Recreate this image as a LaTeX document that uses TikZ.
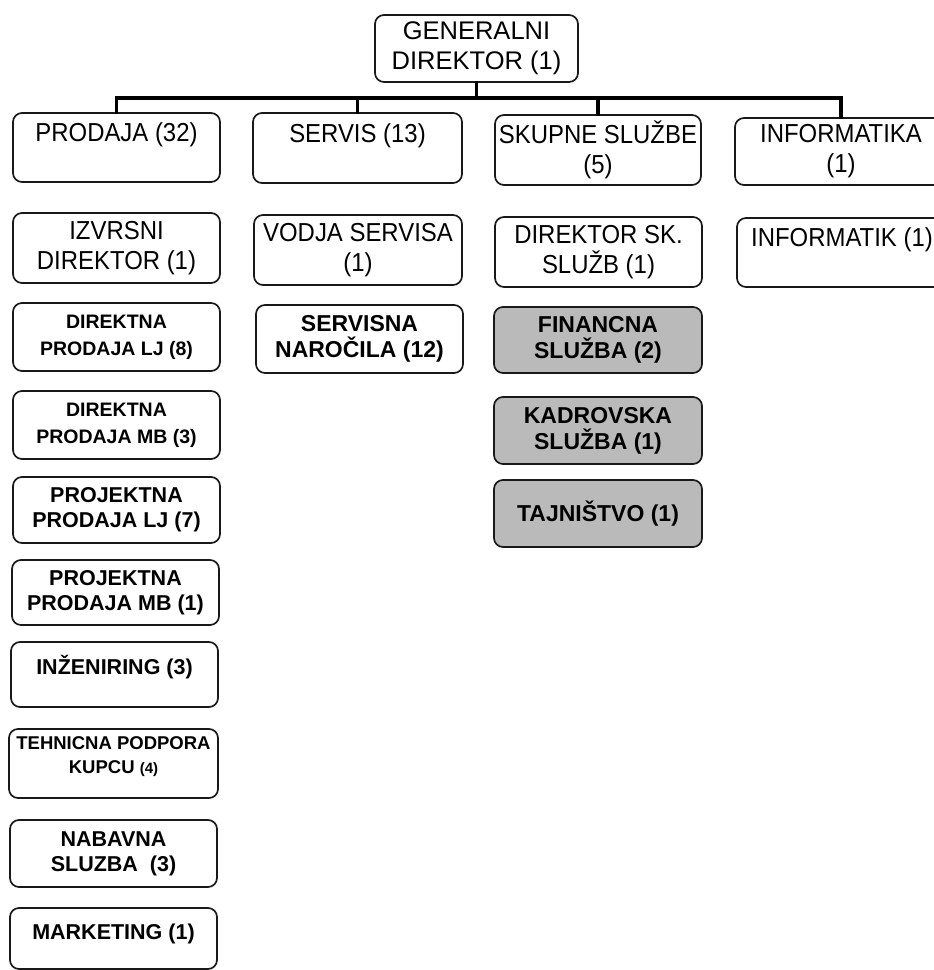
\documentclass[tikz,border=0pt]{standalone}
\usepackage{fontspec}
\setmainfont{Liberation Sans}
\newfontfamily\topfont{Liberation Sans}[FakeStretch=0.92]
\begin{document}
\begin{tikzpicture}[x=1pt,y=-1pt,
  ob/.style={draw=black!90, line width=1.7pt, rounded corners=9pt, inner sep=0pt, align=center, text=black},
  grey/.style={fill=black!27},
  tT/.style={font={\topfont\fontsize{26}{30}\selectfont}},
  tG/.style={font={\fontsize{25.5}{30}\selectfont}},
  bA/.style={font={\bfseries\fontsize{19.5}{27}\selectfont}},
  bB/.style={font={\bfseries\fontsize{21.5}{25}\selectfont}},
  bC/.style={font={\bfseries\fontsize{23}{26}\selectfont}},
  bD/.style={font={\bfseries\fontsize{18.5}{24}\selectfont}},
  link/.style={line width=3.2pt, line cap=rect, draw=black}]
\useasboundingbox (0,0) rectangle (934,970);
\clip (0,0) rectangle (934,970);
\fill[white] (0,0) rectangle (934,970);
% top
\node[ob,tG,minimum width=203pt,minimum height=67pt] (gd) at (476.5,48.5) {GENERALNI\\DIREKTOR (1)};
% row 1
\node[ob,tT,minimum width=207pt,minimum height=69pt] (prodaja) at (116.5,147.5) {PRODAJA (32)\\~};
\node[ob,tT,minimum width=209pt,minimum height=70pt] (servis) at (357.5,148) {SERVIS (13)\\~};
\node[ob,tT,minimum width=206pt,minimum height=70pt] (skupne) at (598,150) {SKUPNE SLUŽBE\\(5)};
\node[ob,tT,minimum width=212pt,minimum height=67pt] (informatika) at (841,151.5) {INFORMATIKA\\(1)};
% row 2
\node[ob,tT,minimum width=207pt,minimum height=70pt] (izvrsni) at (116.5,248) {IZVRSNI\\DIREKTOR (1)};
\node[ob,tT,minimum width=208pt,minimum height=70pt] (vodja) at (358,250) {VODJA SERVISA\\(1)};
\node[ob,tT,minimum width=207pt,minimum height=70pt] (dirsk) at (598.5,252) {DIREKTOR SK.\\SLUŽB (1)};
\node[ob,tT,minimum width=210pt,minimum height=69pt] (informatik) at (842,252.5) {INFORMATIK (1)\\~};
% column 1
\node[ob,bA,minimum width=207pt,minimum height=68pt] (dirlj) at (116.5,337) {DIREKTNA\\PRODAJA LJ (8)};
\node[ob,bA,minimum width=207pt,minimum height=68pt] (dirmb) at (116.5,425) {DIREKTNA\\PRODAJA MB (3)};
\node[ob,bB,minimum width=207pt,minimum height=66pt] (projlj) at (116.5,510) {PROJEKTNA\\PRODAJA LJ (7)};
\node[ob,bB,minimum width=207pt,minimum height=65pt] (projmb) at (115.5,592.5) {PROJEKTNA\\PRODAJA MB (1)};
\node[ob,bB,minimum width=207pt,minimum height=65pt] (inz) at (114.5,674.5) {INŽENIRING (3)\\[-6pt]~};
\node[ob,bD,minimum width=209pt,minimum height=69pt] (tehn) at (113.5,763.5) {TEHNICNA PODPORA\\KUPCU {\fontsize{15}{24}\selectfont(4)}\\[-8pt]~};
\node[ob,bB,minimum width=207pt,minimum height=67pt] (nabav) at (113.5,853.5) {NABAVNA\\SLUZBA~~(3)};
\node[ob,bB,minimum width=207pt,minimum height=61pt] (mark) at (113.5,938.5) {MARKETING (1)\\[-12pt]~};
% column 2
\node[ob,bC,minimum width=207pt,minimum height=68pt] (servisna) at (359.5,339) {SERVISNA\\NAROČILA (12)};
% column 3
\node[ob,bC,grey,minimum width=208pt,minimum height=66pt] (fin) at (598,340) {FINANCNA\\SLUŽBA (2)};
\node[ob,bC,grey,minimum width=208pt,minimum height=67pt] (kad) at (598,430.5) {KADROVSKA\\SLUŽBA (1)};
\node[ob,bC,grey,minimum width=208pt,minimum height=67pt] (taj) at (598,513.5) {TAJNIŠTVO (1)};
% connectors
\coordinate (bus) at (477,98);
\draw[link] (gd.south) -- (gd.south |- bus);
\draw[link] (prodaja.north) -- (prodaja.north |- bus) -- (informatika.north |- bus) -- (informatika.north);
\draw[link] (servis.north) -- (servis.north |- bus);
\draw[link] (skupne.north) -- (skupne.north |- bus);
\end{tikzpicture}
\end{document}
